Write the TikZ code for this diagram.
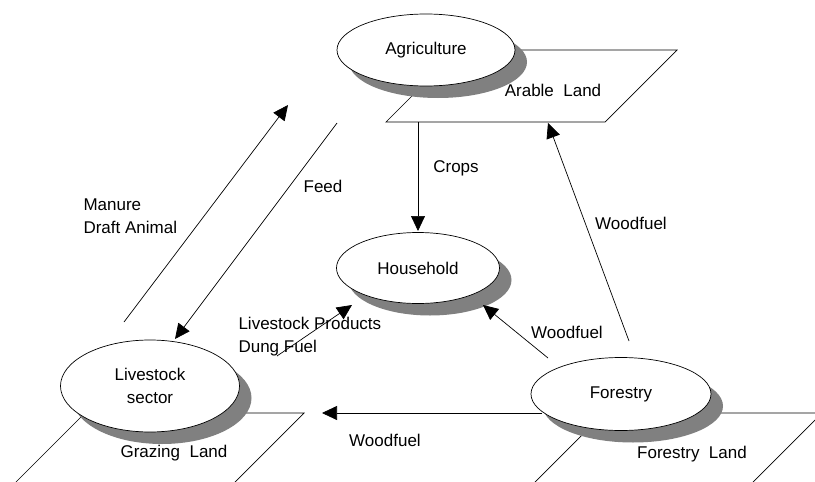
\documentclass[tikz,border=0pt]{standalone}
\usepackage{fontspec}
\setmainfont{Liberation Sans}
\usetikzlibrary{shapes.geometric,shadows,arrows.meta}

\begin{document}
\begin{tikzpicture}[
    x=1pt, y=-1pt,
    font=\fontsize{17}{23}\selectfont,
    sector/.style={draw=black, fill=white, line width=0.7pt, ellipse, inner sep=0pt,
        drop shadow={shadow xshift=12pt, shadow yshift=-12pt, fill=black!50, opacity=1}},
    land/.style={draw=black, fill=white, line width=0.7pt},
    arrow/.style={-{Triangle[length=15pt,width=14pt]}, line width=0.7pt, black}
]
\useasboundingbox (0,0) rectangle (815,482);
\clip (0,0) rectangle (815,482);

% Land areas
\draw[land] (458,50) -- (677,50) -- (605,122) -- (386,122) -- cycle;
\draw[land] (85,413) -- (304,413) -- (232,485) -- (13,485) -- cycle;
\draw[land] (604,413) -- (822,413) -- (750,485) -- (532,485) -- cycle;

% Sectors
\node[sector, minimum width=178pt, minimum height=72pt] (agri)   at (426,50)  {Agriculture};
\node[sector, minimum width=163pt, minimum height=71pt] (house)  at (418,268) {Household};
\node[sector, minimum width=179pt, minimum height=92pt, align=center] (live) at (150,386) {Livestock\\sector};
\node[sector, minimum width=180pt, minimum height=73pt] (forest) at (621,394) {Forestry};

% Land labels
\node (arable)  at (553,90)  {Arable~~Land};
\node (grazing) at (174,453) {Grazing~~Land};
\node (forland) at (692,454) {Forestry~~Land};

% Free ends of the flows
\coordinate (cropsA)  at (418,122);
\coordinate (cropsB)  at (418,231);
\coordinate (manA)    at (124,322);
\coordinate (manB)    at (288,105);
\coordinate (feedA)   at (337,123);
\coordinate (feedB)   at (175,339);
\coordinate (prodA)   at (277,356);
\coordinate (prodB)   at (352,305);
\coordinate (wfhA)    at (548,358);
\coordinate (wfhB)    at (483,305);
\coordinate (wfaA)    at (629,341);
\coordinate (wfaB)    at (548,123);
\coordinate (wfgA)    at (542,413);
\coordinate (wfgB)    at (322,413);

% Flows
\draw[arrow] (cropsA) -- (cropsB);
\draw[arrow] (manA) -- (manB);
\draw[arrow] (feedA) -- (feedB);
\draw[arrow] (prodA) -- (prodB);
\draw[arrow] (wfhA) -- (wfhB);
\draw[arrow] (wfaA) -- (wfaB);
\draw[arrow] (wfgA) -- (wfgB);

% Flow labels
\node (crops)  at (456,168) {Crops};
\node (feed)   at (323,186) {Feed};
\node[anchor=west, align=left] (manure) at (80,216) {Manure\\Draft Animal};
\node[anchor=west, align=left] (prod)   at (235,337) {Livestock Products\\Dung Fuel};
\node (wfa) at (631,223) {Woodfuel};
\node (wfh) at (567,332) {Woodfuel};
\node (wfg) at (385,440) {Woodfuel};

\end{tikzpicture}
\end{document}
